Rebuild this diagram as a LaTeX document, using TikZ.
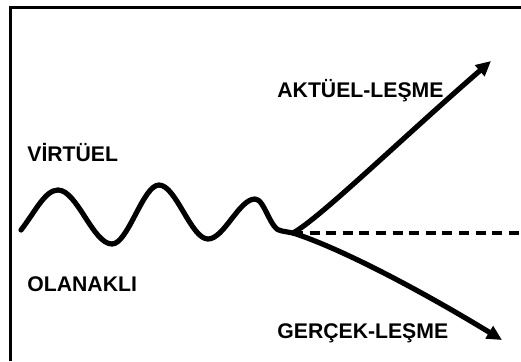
\documentclass[tikz,border=0pt]{standalone}
\usepackage{fontspec}
\setmainfont{Liberation Sans}
\usetikzlibrary{arrows.meta}

\begin{document}
\begin{tikzpicture}[x=0.5pt,y=-0.5pt,>={Triangle[length=7.5pt,width=7pt]},
  lbl/.style={anchor=base west,inner sep=0pt,font=\fontsize{10.6}{12}\selectfont\bfseries},
  wave/.style={line width=2.6pt,line cap=round,line join=round}]
\useasboundingbox (0,0) rectangle (521,361);
\draw[line width=1.5pt] (10.5,361) -- (10.5,7.5) -- (521,7.5);
\node[lbl] (virtuel) at (27,161) {VİRTÜEL};
\node[lbl] (olanakli) at (27,291) {OLANAKLI};
\node[lbl] (aktuel) at (277,97) {AKTÜEL-LEŞME};
\node[lbl] (gercek) at (277,338) {GERÇEK-LEŞME};
\coordinate (start) at (21,230);
\coordinate (split) at (293,233);
\coordinate (up) at (491,61);
\coordinate (down) at (502,340);
\coordinate (edge) at (521,233);
% wave
\draw[wave] (start) .. controls (35,212) and (45,190) .. (58,190)
  .. controls (77,190) and (93,244) .. (112,244)
  .. controls (128,244) and (143,185) .. (159,185)
  .. controls (176,185) and (191,239) .. (208,239)
  .. controls (224,239) and (239,199) .. (255,199)
  .. controls (265,199) and (270,231) .. (282,231)
  .. controls (287,232) .. (split);
\draw[wave,->] (split) .. controls (320,218) and (400,140) .. (up);
\draw[wave,->] (split) .. controls (340,248) and (420,290) .. (down);
\draw[line width=2.4pt,dash pattern=on 5pt off 3.3pt] (split) -- (edge);
\end{tikzpicture}
\end{document}
